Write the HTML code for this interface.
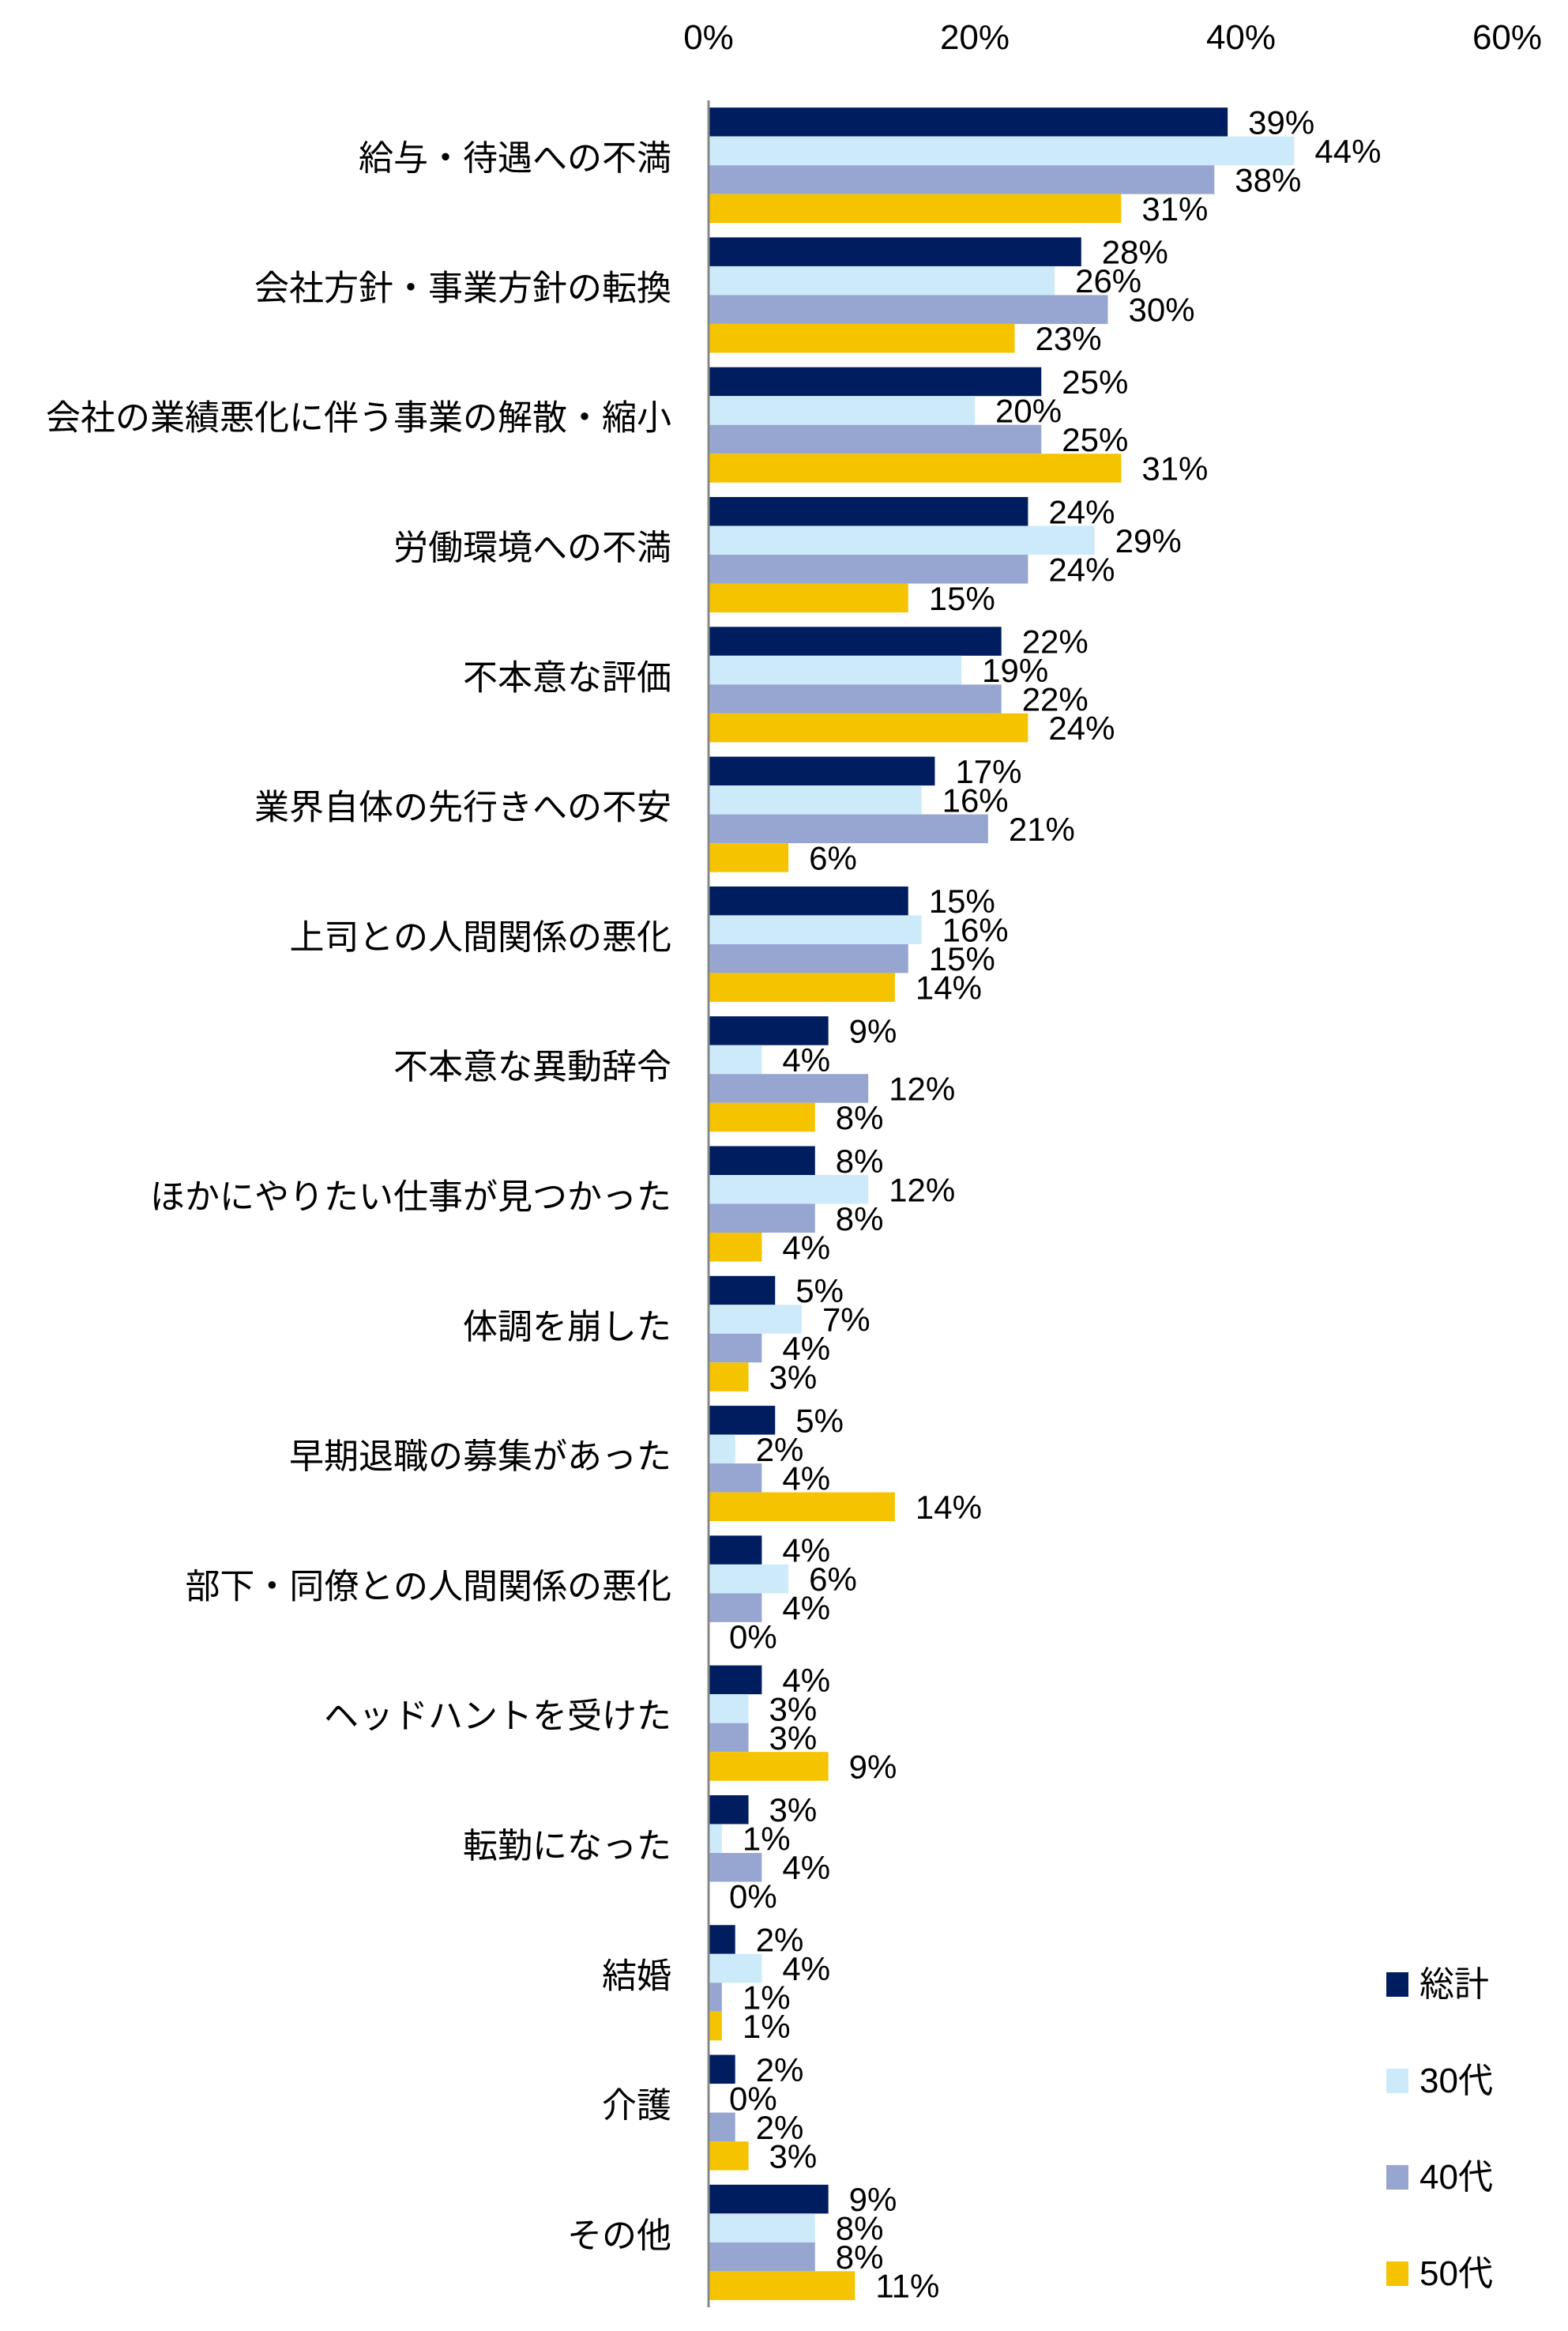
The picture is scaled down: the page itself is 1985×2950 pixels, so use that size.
<!DOCTYPE html>
<html><head><meta charset="utf-8"><style>
html,body{margin:0;padding:0;background:#fff;}
svg text{font-family:"Liberation Sans","Noto Sans CJK JP",sans-serif;fill:#000;}
</style></head><body>
<svg id="chart" width="1985" height="2945" viewBox="0 0 1985 2945" xmlns="http://www.w3.org/2000/svg"></svg>
<script>
const categories = ["給与・待遇への不満","会社方針・事業方針の転換","会社の業績悪化に伴う事業の解散・縮小","労働環境への不満","不本意な評価","業界自体の先行きへの不安","上司との人間関係の悪化","不本意な異動辞令","ほかにやりたい仕事が見つかった","体調を崩した","早期退職の募集があった","部下・同僚との人間関係の悪化","ヘッドハントを受けた","転勤になった","結婚","介護","その他"];
const seriesNames = ["総計","30代","40代","50代"];
const totalValues = [39,28,25,24,22,17,15,9,8,5,5,4,4,3,2,2,9];
const age30Values = [44,26,20,29,19,16,16,4,12,7,2,6,3,1,4,0,8];
const age40Values = [38,30,25,24,22,21,15,12,8,4,4,4,3,4,1,2,8];
const age50Values = [31,23,31,15,24,6,14,8,4,3,14,0,9,0,1,3,11];
const tickValues = [0,20,40,60];
const tickLabels = ["0%","20%","40%","60%"];

const colors = ["#001d5f","#cdeafb","#97a6d1","#f5c300"];
const series = [totalValues, age30Values, age40Values, age50Values];
const svg = document.getElementById('chart');
const NS = "http://www.w3.org/2000/svg";
const x0 = 897, pxPerPct = 16.85;
const yTop = 127, yBottom = 2920;
const band = (yBottom - yTop) / categories.length;
const barH = 36.5;
function xScale(v){ return x0 + v * pxPerPct; }
function yBand(i){ return yTop + i * band; }
function mk(tag, attrs){ const e = document.createElementNS(NS, tag); for (const k in attrs) e.setAttribute(k, attrs[k]); svg.appendChild(e); return e; }

tickValues.forEach((t, i) => {
  const e = mk('text', {x: xScale(t), y: 62, 'font-size': 44, 'text-anchor': 'middle'});
  e.textContent = tickLabels[i];
  
  
});

categories.forEach((c, i) => {
  const groupTop = yBand(i) + (band - barH * 4) / 2;
  series.forEach((vals, s) => {
    const y = groupTop + s * barH;
    const r = mk('rect', {x: x0, y: y, width: Math.max(0, xScale(vals[i]) - x0), height: barH, fill: colors[s]});
    
    
    const t = mk('text', {x: xScale(vals[i]) + 26, y: y + barH / 2 + 15, 'font-size': 42});
    t.textContent = vals[i] + '%';
    
    
  });
  const lbl = mk('text', {x: 850, y: yBand(i) + band / 2 + 6, 'font-size': 44, 'text-anchor': 'end'});
  lbl.textContent = c;
  
  
});

const axis = mk('line', {x1: x0, y1: yTop, x2: x0, y2: yBottom, stroke: '#888', 'stroke-width': 3});



seriesNames.forEach((n, s) => {
  const cy = 2511 + s * 122;
  const sq = mk('rect', {x: 1755, y: cy - 15, width: 28, height: 31, fill: colors[s]});
  
  
  const t = mk('text', {x: 1797, y: cy + 15, 'font-size': 44});
  t.textContent = n;
  
  
});
</script>
</body></html>
